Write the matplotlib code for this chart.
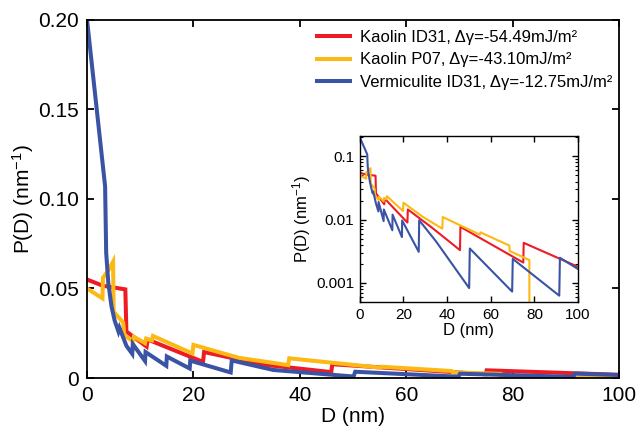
import numpy as np
import matplotlib
matplotlib.use("Agg")
import matplotlib.pyplot as plt
from matplotlib.ticker import FixedLocator, FixedFormatter, LogLocator, NullFormatter

plt.rcParams['font.family'] = ['Liberation Sans', 'DejaVu Sans']
plt.rcParams['mathtext.fontset'] = 'custom'
plt.rcParams['mathtext.rm'] = 'Liberation Sans'
plt.rcParams['mathtext.it'] = 'Liberation Sans'

# Kaolin ID31
d_red = [0, 3.0, 7.2, 7.4, 11.2, 11.4, 21.8, 22.0, 33.0, 45.9, 46.1, 74.9, 75.1, 100]
p_red = [0.055, 0.0515, 0.0495, 0.026, 0.0175, 0.0215, 0.0090, 0.0145, 0.0075,
         0.0033, 0.0077, 0.0021, 0.0043, 0.0018]

# Kaolin P07
d_yel = [0, 2.9, 3.0, 4.0, 4.9, 5.0, 6.8, 7.0, 8.6, 8.8, 10.9, 11.1, 12.2, 12.4,
         19.8, 20.0, 28.5, 37.8, 38.0, 55.0, 55.3, 68.5, 68.7, 77.7, 77.8, 100]
p_yel = [0.050, 0.0445, 0.056, 0.060, 0.065, 0.037, 0.031, 0.024, 0.0205, 0.023,
         0.0195, 0.022, 0.021, 0.0235, 0.0137, 0.0185, 0.0113, 0.0072, 0.011, 0.0058,
         0.0063, 0.0039, 0.0032, 0.0023, 0.0, 0.0]

# Vermiculite ID31
d_blu = [0, 3.4, 3.6, 4.0, 4.6, 5.2, 5.9, 6.1, 7.4, 8.5, 8.6, 10.9, 11.0, 14.9, 15.0,
         19.3, 19.4, 27.0, 27.2, 35.0, 50.1, 50.4, 69.8, 70.1, 91.4, 91.7, 100]
p_blu = [0.200, 0.107, 0.070, 0.053, 0.040, 0.032, 0.026, 0.028, 0.018, 0.0135, 0.019,
         0.0095, 0.0145, 0.0068, 0.012, 0.0053, 0.0097, 0.0031, 0.0098, 0.0045, 0.00083,
         0.0035, 0.00073, 0.0024, 0.00063, 0.0025, 0.00166]

labels = ['Kaolin ID31, Δγ=-54.49mJ/m²',
          'Kaolin P07, Δγ=-43.10mJ/m²',
          'Vermiculite ID31, Δγ=-12.75mJ/m²']
colors = ['#ED1C24', '#FDB913', '#3A53A4']

fig = plt.figure(figsize=(6.38, 4.33), dpi=100)
ax = fig.add_axes([0.1364, 0.127, 0.834, 0.827])

series = [(d_red, p_red), (d_yel, p_yel), (d_blu, p_blu)]
for (d, p), c, lab in zip(series, colors, labels):
    ax.plot(d, p, color=c, lw=2.9, label=lab, solid_joinstyle='miter')

ax.set_xlim(0, 100)
ax.set_ylim(0, 0.2)
ax.set_xticks([0, 20, 40, 60, 80, 100])
ax.set_yticks([0, 0.05, 0.10, 0.15, 0.20])
ax.set_yticklabels(['0', '0.05', '0.10', '0.15', '0.20'])
ax.tick_params(direction='in', top=True, right=True, length=5, width=1.3,
               labelsize=15, pad=6)
for s in ax.spines.values():
    s.set_linewidth(1.3)
ax.set_xlabel('D (nm)', fontsize=15, labelpad=1)
ax.set_ylabel('P(D) (nm$^{-1}$)', fontsize=15, labelpad=1)

ax.legend(loc='upper left', bbox_to_anchor=(0.432, 0.972), frameon=False,
          fontsize=12, handlelength=2.0, handletextpad=0.6, labelspacing=0.45,
          borderpad=0, borderaxespad=0)

# inset, log scale
ins = fig.add_axes([0.564, 0.3025, 0.342, 0.3835])
for (d, p), c in zip(series, colors):
    ins.plot(d, p, color=c, lw=1.5)
ins.set_yscale('log')
ins.set_xlim(0, 100)
ins.set_ylim(5e-4, 0.21)
ins.set_xticks([0, 20, 40, 60, 80, 100])
ins.yaxis.set_major_locator(FixedLocator([0.001, 0.01, 0.1]))
ins.yaxis.set_major_formatter(FixedFormatter(['0.001', '0.01', '0.1']))
ins.yaxis.set_minor_locator(LogLocator(base=10, subs=np.arange(2, 10)))
ins.yaxis.set_minor_formatter(NullFormatter())
ins.tick_params(which='major', direction='in', top=True, right=True, length=4,
                width=1.0, labelsize=11, pad=4)
ins.tick_params(which='minor', direction='in', right=True, length=2, width=0.8)
for s in ins.spines.values():
    s.set_linewidth(1.0)
ins.set_xlabel('D (nm)', fontsize=12, labelpad=1)
ins.set_ylabel('P(D) (nm$^{-1}$)', fontsize=12, labelpad=2)

fig.savefig('out.png', dpi=100)
